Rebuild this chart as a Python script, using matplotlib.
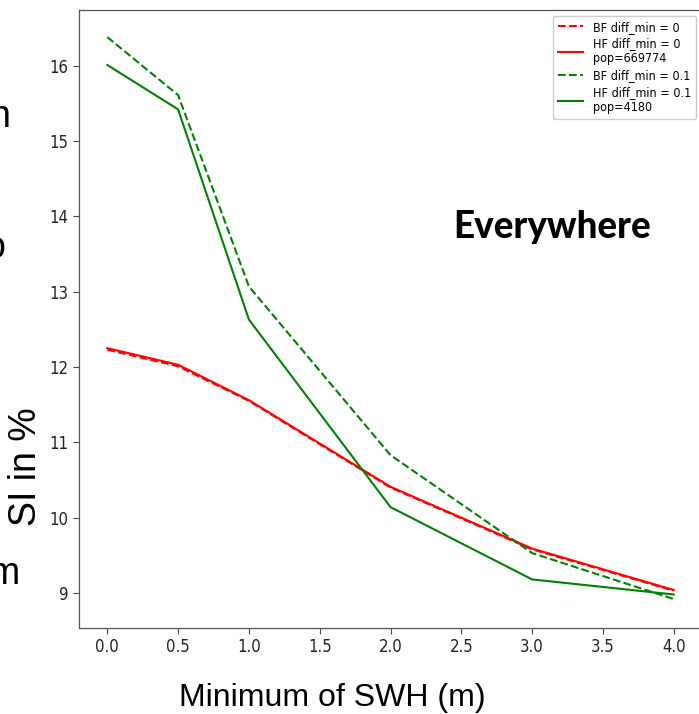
import matplotlib
matplotlib.use("Agg")
import matplotlib.pyplot as plt
from matplotlib import font_manager as fm

# ---- data ----
swh_min = [0.0, 0.5, 1.0, 2.0, 3.0, 4.0]
bf_diff0 = [12.23, 12.01, 11.55, 10.40, 9.58, 9.03]
hf_diff0 = [12.25, 12.03, 11.56, 10.41, 9.59, 9.04]
bf_diff01 = [16.38, 15.61, 13.07, 10.83, 9.53, 8.92]
hf_diff01 = [16.01, 15.42, 12.63, 10.14, 9.18, 8.98]
labels = ["BF diff_min = 0", "HF diff_min = 0\npop=669774",
          "BF diff_min = 0.1", "HF diff_min = 0.1\npop=4180"]
xticks = [0.0, 0.5, 1.0, 1.5, 2.0, 2.5, 3.0, 3.5, 4.0]
yticks = [9, 10, 11, 12, 13, 14, 15, 16]

names = {f.name for f in fm.fontManager.ttflist}
if "DejaVu Sans Condensed" in names:
    tickfam, tickstretch = "DejaVu Sans Condensed", "normal"
else:
    tickfam, tickstretch = "DejaVu Sans", "condensed"
boldfam = "Lato" if "Lato" in names else "DejaVu Sans"

W, H = 699, 714
fig = plt.figure(figsize=(W / 100, H / 100), dpi=100)
ax = fig.add_axes([79 / W, 1 - 628 / H, (702 - 79) / W, (628 - 10) / H])

ax.plot(swh_min, bf_diff0, color="red", ls="--", lw=1.5, label=labels[0])
ax.plot(swh_min, hf_diff0, color="red", ls="-", lw=1.5, label=labels[1])
ax.plot(swh_min, bf_diff01, color="green", ls="--", lw=1.5, label=labels[2])
ax.plot(swh_min, hf_diff01, color="green", ls="-", lw=1.5, label=labels[3])

ax.set_xlim(-0.2, 4.2)
ax.set_ylim(8.535, 16.74)
ax.set_xticks(xticks)
ax.set_xticklabels([f"{v:.1f}" for v in xticks])
ax.set_yticks(yticks)
ax.set_yticklabels([str(v) for v in yticks])
for lab in ax.get_xticklabels() + ax.get_yticklabels():
    lab.set_fontfamily(tickfam)
    lab.set_fontstretch(tickstretch)
    lab.set_fontsize(12)
    lab.set_color("#222222")
ax.tick_params(colors="#444444", labelcolor="#222222", width=0.8, length=4)
for sp in ax.spines.values():
    sp.set_color("#555555")
    sp.set_linewidth(0.9)

leg = ax.legend(loc="upper right", prop={"family": tickfam, "stretch": tickstretch, "size": 9},
                frameon=True, fancybox=True, framealpha=1.0, edgecolor="#cccccc",
                handlelength=2.0, labelspacing=0.3, borderpad=0.4, borderaxespad=0.45)

fig.text(453 / W, 1 - 238 / H, "Everywhere", fontfamily=boldfam, fontweight="black",
         fontsize=26.5, ha="left", va="baseline", color="black")

fig.text(332 / W, 1 - 706 / H, "Minimum of SWH (m)", fontfamily="Liberation Sans", fontsize=23,
         ha="center", va="baseline", color="black")
fig.text(44 / W, 1 - 467 / H, "SI in %", fontfamily="Liberation Sans", fontsize=27,
         rotation=90, ha="right", va="center", color="black")

# fragments of neighbouring text at the left edge
fig.text(10 / W, 1 - 127 / H, "n", fontfamily="Liberation Sans", fontsize=27, ha="right", va="baseline")
fig.text(5 / W, 1 - 258 / H, "o", fontfamily="Liberation Sans", fontsize=27, ha="right", va="baseline")
fig.text(20 / W, 1 - 584 / H, "m", fontfamily="Liberation Sans", fontsize=27, ha="right", va="baseline")

fig.savefig("out.png", dpi=100)
